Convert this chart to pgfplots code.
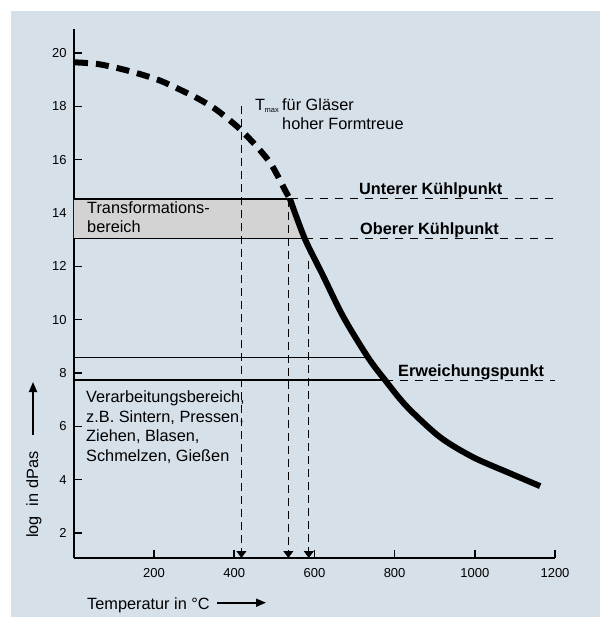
\documentclass[border=0pt]{standalone}
\usepackage{pgfplots}
\pgfplotsset{compat=1.18}
\usepackage{fontspec}
\setmainfont{Liberation Sans}
\usetikzlibrary{arrows.meta}
\definecolor{panel}{RGB}{214,224,233}
\definecolor{trans}{RGB}{211,211,211}
\newcommand{\tf}{\fontsize{16.3pt}{19pt}\selectfont}
\begin{document}
\begin{tikzpicture}
\useasboundingbox (0pt,0pt) rectangle (600pt,-617pt);
\fill[white] (0pt,0pt) rectangle (600pt,-617pt);
\fill[panel] (11pt,-11pt) rectangle (600pt,-617pt);
\begin{axis}[
  at={(73.8pt,-558pt)}, anchor=south west,
  scale only axis, width=481.2pt, height=529pt,
  xmin=0, xmax=1200, ymin=1.065, ymax=20.9,
  axis x line=bottom, axis y line=left,
  axis line style={-, line width=1.6pt, black},
  xtick={200,400,...,1200}, ytick={2,4,...,20},
  tick align=inside, major tick length=8pt,
  every tick/.style={black, line width=1.5pt},
  tick label style={font=\fontsize{13pt}{14pt}\selectfont,
    /pgf/number format/assume math mode=true,
    /pgf/number format/1000 sep={}},
  yticklabel style={inner sep=0pt, xshift=-7pt},
  xticklabel style={inner sep=0pt, yshift=-10.5pt},
  clip=false,
]
% Transformationsbereich fill
\addplot[fill=trans, draw=none] coordinates {(0,13.04) (0,14.53) (539,14.53) (576,13.04)} -- cycle;
% horizontal solid lines
\addplot[black, line width=1.7pt] coordinates {(0,14.53) (539,14.53)};
\addplot[black, line width=1.7pt] coordinates {(0,13.04) (576,13.04)};
\addplot[black, line width=1.7pt] coordinates {(0,8.58) (734,8.58)};
\addplot[black, line width=1.7pt] coordinates {(0,7.74) (776,7.74)};
% horizontal dashed lines
\addplot[black, line width=0.9pt, dash pattern=on 8pt off 7pt] coordinates {(539,14.53) (1200,14.53)};
\addplot[black, line width=0.9pt, dash pattern=on 8pt off 7pt] coordinates {(576,13.04) (1200,13.04)};
\addplot[black, line width=0.9pt, dash pattern=on 8pt off 7pt] coordinates {(776,7.74) (1200,7.74)};
% vertical dashed lines with arrows
\addplot[black, line width=0.9pt, dash pattern=on 8pt off 5pt, -{Triangle[width=10pt,length=7pt]}] coordinates {(418,18.0) (418,1.065)};
\addplot[black, line width=0.9pt, dash pattern=on 8pt off 5pt, -{Triangle[width=10pt,length=7pt]}] coordinates {(535,14.53) (535,1.065)};
\addplot[black, line width=0.9pt, dash pattern=on 8pt off 5pt, -{Triangle[width=10pt,length=7pt]}] coordinates {(586,12.2) (586,1.065)};
% viscosity curve, dashed part
\addplot[black, line width=6pt, smooth, dash pattern=on 13pt off 8pt] coordinates {
 (3,19.65) (58,19.59) (113,19.42) (165,19.21) (216,18.96) (267,18.61) (310,18.29)
 (350,17.93) (382,17.56) (417,17.11) (457,16.48) (489,15.9) (510,15.35) (527,14.85) (539,14.53)};
% viscosity curve, solid part
\addplot[black, line width=6pt, smooth] coordinates {
 (539,14.53) (576,13.04) (620,11.7) (672,10.11) (734,8.58)
 (776,7.74) (830,6.75) (913,5.6) (995,4.85) (1080,4.29) (1163,3.76)};
\end{axis}
% texts
\node[anchor=base west, inner sep=0pt] at (255pt,-110.5pt) {\tf T};
\node[anchor=base west, inner sep=0pt] at (264.5pt,-112.5pt) {\fontsize{7.5pt}{9pt}\selectfont max};
\node[anchor=base west, inner sep=0pt] at (282pt,-111pt) {\tf für Gläser};
\node[anchor=base west, inner sep=0pt] at (282pt,-130pt) {\tf hoher Formtreue};
\node[anchor=base west, inner sep=0pt] at (87pt,-213.5pt) {\tf Transformations-};
\node[anchor=base west, inner sep=0pt] at (87pt,-233pt) {\tf bereich};
\node[anchor=base west, inner sep=0pt] at (359pt,-195pt) {\tf\bfseries Unterer Kühlpunkt};
\node[anchor=base west, inner sep=0pt] at (360pt,-235pt) {\tf\bfseries Oberer Kühlpunkt};
\node[anchor=base west, inner sep=0pt] at (398pt,-376pt) {\tf\bfseries Erweichungspunkt};
\node[anchor=base west, inner sep=0pt] at (86pt,-402.5pt) {\tf Verarbeitungsbereich,};
\node[anchor=base west, inner sep=0pt] at (86pt,-422pt) {\tf z.B. Sintern, Pressen,};
\node[anchor=base west, inner sep=0pt] at (86pt,-441.5pt) {\tf Ziehen, Blasen,};
\node[anchor=base west, inner sep=0pt] at (86pt,-461.5pt) {\tf Schmelzen, Gießen};
% axis labels
\node[anchor=base west, inner sep=0pt] at (87pt,-609pt) {\tf Temperatur in °C};
\draw[black, line width=1.8pt, -{Triangle[width=8pt,length=10pt]}] (217pt,-602.7pt) -- (266pt,-602.7pt);
\node[anchor=base west, inner sep=0pt, rotate=90] at (38pt,-538pt) {\tf log\hspace{10pt}in dPas};
\draw[black, line width=1.8pt, -{Triangle[width=8pt,length=10pt]}] (33pt,-435pt) -- (33pt,-382pt);
\end{tikzpicture}
\end{document}
